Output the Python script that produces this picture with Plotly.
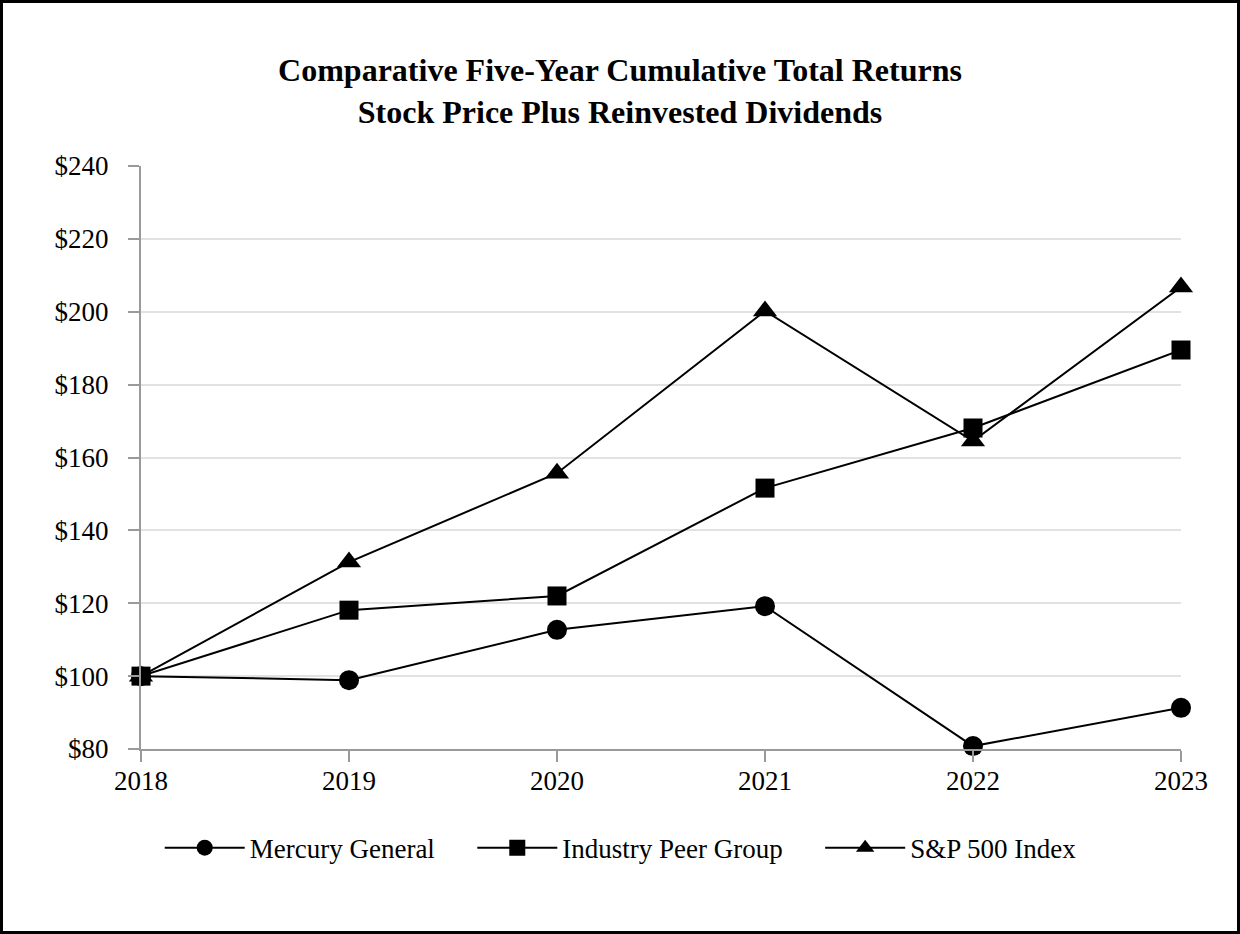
import plotly.graph_objects as go

# years on the x axis
years = [2018, 2019, 2020, 2021, 2022, 2023]

# cumulative total return, $100 invested in 2018
mercury_general = [100.0, 98.9, 112.7, 119.2, 80.8, 91.3]
industry_peer_group = [100.0, 118.1, 122.0, 151.6, 168.1, 189.5]
sp_500_index = [100.0, 131.3, 155.7, 200.2, 164.5, 206.8]

y_ticks = [80, 100, 120, 140, 160, 180, 200, 220, 240]
y_tick_labels = ["$" + str(v) for v in y_ticks]

FONT = "Liberation Serif, Times New Roman, serif"
W, H = 1240, 934
M_L, M_R, M_T, M_B = 141, 59, 166, 185
GAP = "\u00a0" * 4 + "\u2009"   # extra room between legend entries

fig = go.Figure()

series = [
    ("Mercury General" + GAP, mercury_general, "circle", 20),
    ("Industry Peer Group" + GAP, industry_peer_group, "square", 19),
    ("S&P 500 Index", sp_500_index, "triangle-up", 21),
]
for name, vals, sym, sz in series:
    fig.add_trace(go.Scatter(
        x=years, y=vals, name=name,
        mode="lines+markers",
        line=dict(color="black", width=2),
        marker=dict(symbol=sym, size=sz, color="black"),
        cliponaxis=False,
    ))

# frame round the whole picture
pw = W - M_L - M_R
ph = H - M_T - M_B
fig.add_shape(
    type="rect", xref="paper", yref="paper",
    x0=-(M_L - 1.5) / pw, x1=1 + (M_R - 1.5) / pw,
    y0=-(M_B - 1.5) / ph, y1=1 + (M_T - 1.5) / ph,
    line=dict(color="black", width=3),
)

fig.update_layout(
    width=W, height=H,
    margin=dict(l=M_L, r=M_R, t=M_T, b=M_B),
    paper_bgcolor="white",
    plot_bgcolor="white",
    font=dict(family=FONT, size=27, color="black"),
    title=dict(
        text="<b>Comparative Five-Year Cumulative Total Returns<br>Stock Price Plus Reinvested Dividends</b>",
        x=0.5, xanchor="center",
        y=1 - 81 / H, yanchor="middle",
        font=dict(family=FONT, size=32, color="black"),
    ),
    showlegend=True,
    legend=dict(
        orientation="h",
        x=0.018, xanchor="left",
        y=-0.17, yanchor="middle",
        font=dict(family=FONT, size=27),
        itemwidth=80,
        traceorder="normal",
    ),
    xaxis=dict(
        range=[2018, 2023],
        tickvals=years,
        ticktext=[str(y) for y in years],
        showgrid=False,
        showline=True, linecolor="#9a9a9a", linewidth=2,
        ticks="outside", ticklen=11, tickcolor="#9a9a9a", tickwidth=2,
        ticklabelstandoff=-4,
        zeroline=False,
        tickfont=dict(family=FONT, size=27),
    ),
    yaxis=dict(
        range=[80, 240],
        tickvals=y_ticks,
        ticktext=y_tick_labels,
        showgrid=True, gridcolor="#e2e2e2", gridwidth=2,
        showline=True, linecolor="#9a9a9a", linewidth=2,
        ticks="outside", ticklen=11, tickcolor="#9a9a9a", tickwidth=2,
        ticklabelstandoff=14,
        zeroline=False,
        tickfont=dict(family=FONT, size=27),
    ),
)

fig.write_html(
    "out.html",
    config={"displayModeBar": False},
    post_script="document.body.style.margin='0';",
)
